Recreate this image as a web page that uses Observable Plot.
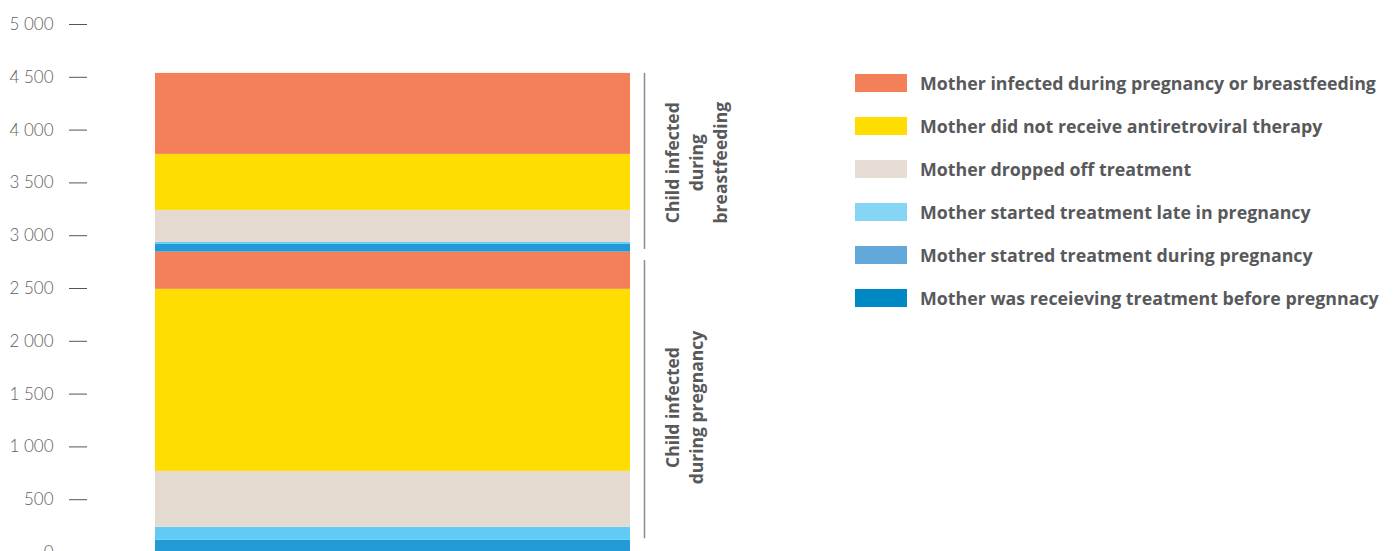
<!DOCTYPE html>
<html>
<head>
<meta charset="utf-8">
<script src="https://cdn.jsdelivr.net/npm/d3@7"></script>
<script src="https://cdn.jsdelivr.net/npm/@observablehq/plot@0.6"></script>
<style>
  html, body { margin: 0; padding: 0; background: #fff; overflow: hidden; }
  #wrap { position: relative; width: 1395px; height: 551px; }
  #chart { position: absolute; left: 0; top: 0; }
  #legend { position: absolute; left: 855px; top: 74px; font-family: "Open Sans", Lato, sans-serif; }
  .row { display: flex; align-items: center; height: 18px; margin-bottom: 25px; }
  .sw { width: 52px; height: 18px; flex: none; }
  .lab { margin-left: 13px; font-size: 17.8px; font-weight: 700; color: #58595b; white-space: nowrap; }
</style>
</head>
<body>
<div id="wrap">
  <div id="chart"></div>
  <div id="legend"></div>
</div>
<script>
// ---- data ----
const causes = [
  "Mother was receieving treatment before pregnnacy",
  "Mother statred treatment during pregnancy",
  "Mother started treatment late in pregnancy",
  "Mother dropped off treatment",
  "Mother did not receive antiretroviral therapy",
  "Mother infected during pregnancy or breastfeeding"
];
const barColors = ["#2399d6", "#62a8db", "#62cbf5", "#e5dad0", "#ffdd00", "#f4805a"];
const legendOrder = [5, 4, 3, 2, 1, 0];
const legendColors = ["#0088c4", "#62a8db", "#85d5f5", "#e6ded5", "#ffdd00", "#f4805a"];
const stages = ["Child infected\nduring pregnancy", "Child infected\nduring\nbreastfeeding"];
const pregnancyValues = [115, 0, 125, 528, 1724, 353];
const breastfeedingValues = [73, 0, 19, 303, 530, 767];
const yTicks = [0, 500, 1000, 1500, 2000, 2500, 3000, 3500, 4000, 4500, 5000];
// bracket trims (in value units) at the bottom / top of each group's bracket line
const bracketTrimBottom = [130, 25];
const bracketTrimTop = [80, 0];
// label centre shift (value units) per group
const labelShift = [-50, 0];

// ---- build table ----
const rows = [];
[pregnancyValues, breastfeedingValues].forEach((vals, s) => {
  vals.forEach((v, i) => rows.push({id: rows.length, col: "Total", stage: s, cause: causes[i], value: v}));
});
const sums = [pregnancyValues, breastfeedingValues].map(v => d3.sum(v));
const starts = [0, sums[0]];
const groups = stages.map((label, s) => ({
  col: "Total",
  label,
  y1: starts[s] + bracketTrimBottom[s],
  y2: starts[s] + sums[s] - bracketTrimTop[s],
  mid: starts[s] + sums[s] / 2 + labelShift[s]
}));

const fmt = d3.formatLocale({thousands: " ", grouping: [3], decimal: ","}).format(",");

const chart = Plot.plot({
  width: 840,
  height: 552,
  marginTop: 24,
  marginBottom: 0,
  marginLeft: 87,
  marginRight: 0,
  style: {fontFamily: "Lato, 'Open Sans', sans-serif", background: "transparent", overflow: "visible"},
  x: {domain: ["Total"], range: [155, 630], padding: 0, axis: null},
  y: {domain: [0, 5000], axis: null},
  color: {domain: causes, range: barColors},
  marks: [
    Plot.axisY({ticks: yTicks, tickSize: 18, tickPadding: 16, tickFormat: fmt, fontSize: 17, fontWeight: 300, color: "#606060", stroke: "#555"}),
    Plot.barY(rows, Plot.stackY({x: "col", y: "value", fill: "cause", z: "id", order: null, inset: 0})),
    Plot.ruleX(groups, {x: "col", y1: "y1", y2: "y2", dx: 251.5, stroke: "#8a8a8a", strokeWidth: 1.5}),
    Plot.text(groups, {x: "col", y: "mid", text: "label", rotate: -90, dx: 269, lineAnchor: "top", textAnchor: "middle", fontFamily: "'Open Sans', sans-serif", fontSize: 17.5, fontWeight: 700, fill: "#58595b", lineHeight: 1.37})
  ]
});
document.getElementById("chart").appendChild(chart);

// ---- legend ----
const legend = document.getElementById("legend");
legendOrder.forEach(i => {
  const r = document.createElement("div");
  r.className = "row";
  const sw = document.createElement("div");
  sw.className = "sw";
  sw.style.background = legendColors[i];
  const lab = document.createElement("div");
  lab.className = "lab";
  lab.textContent = causes[i];
  r.appendChild(sw); r.appendChild(lab);
  legend.appendChild(r);
});
</script>
</body>
</html>
